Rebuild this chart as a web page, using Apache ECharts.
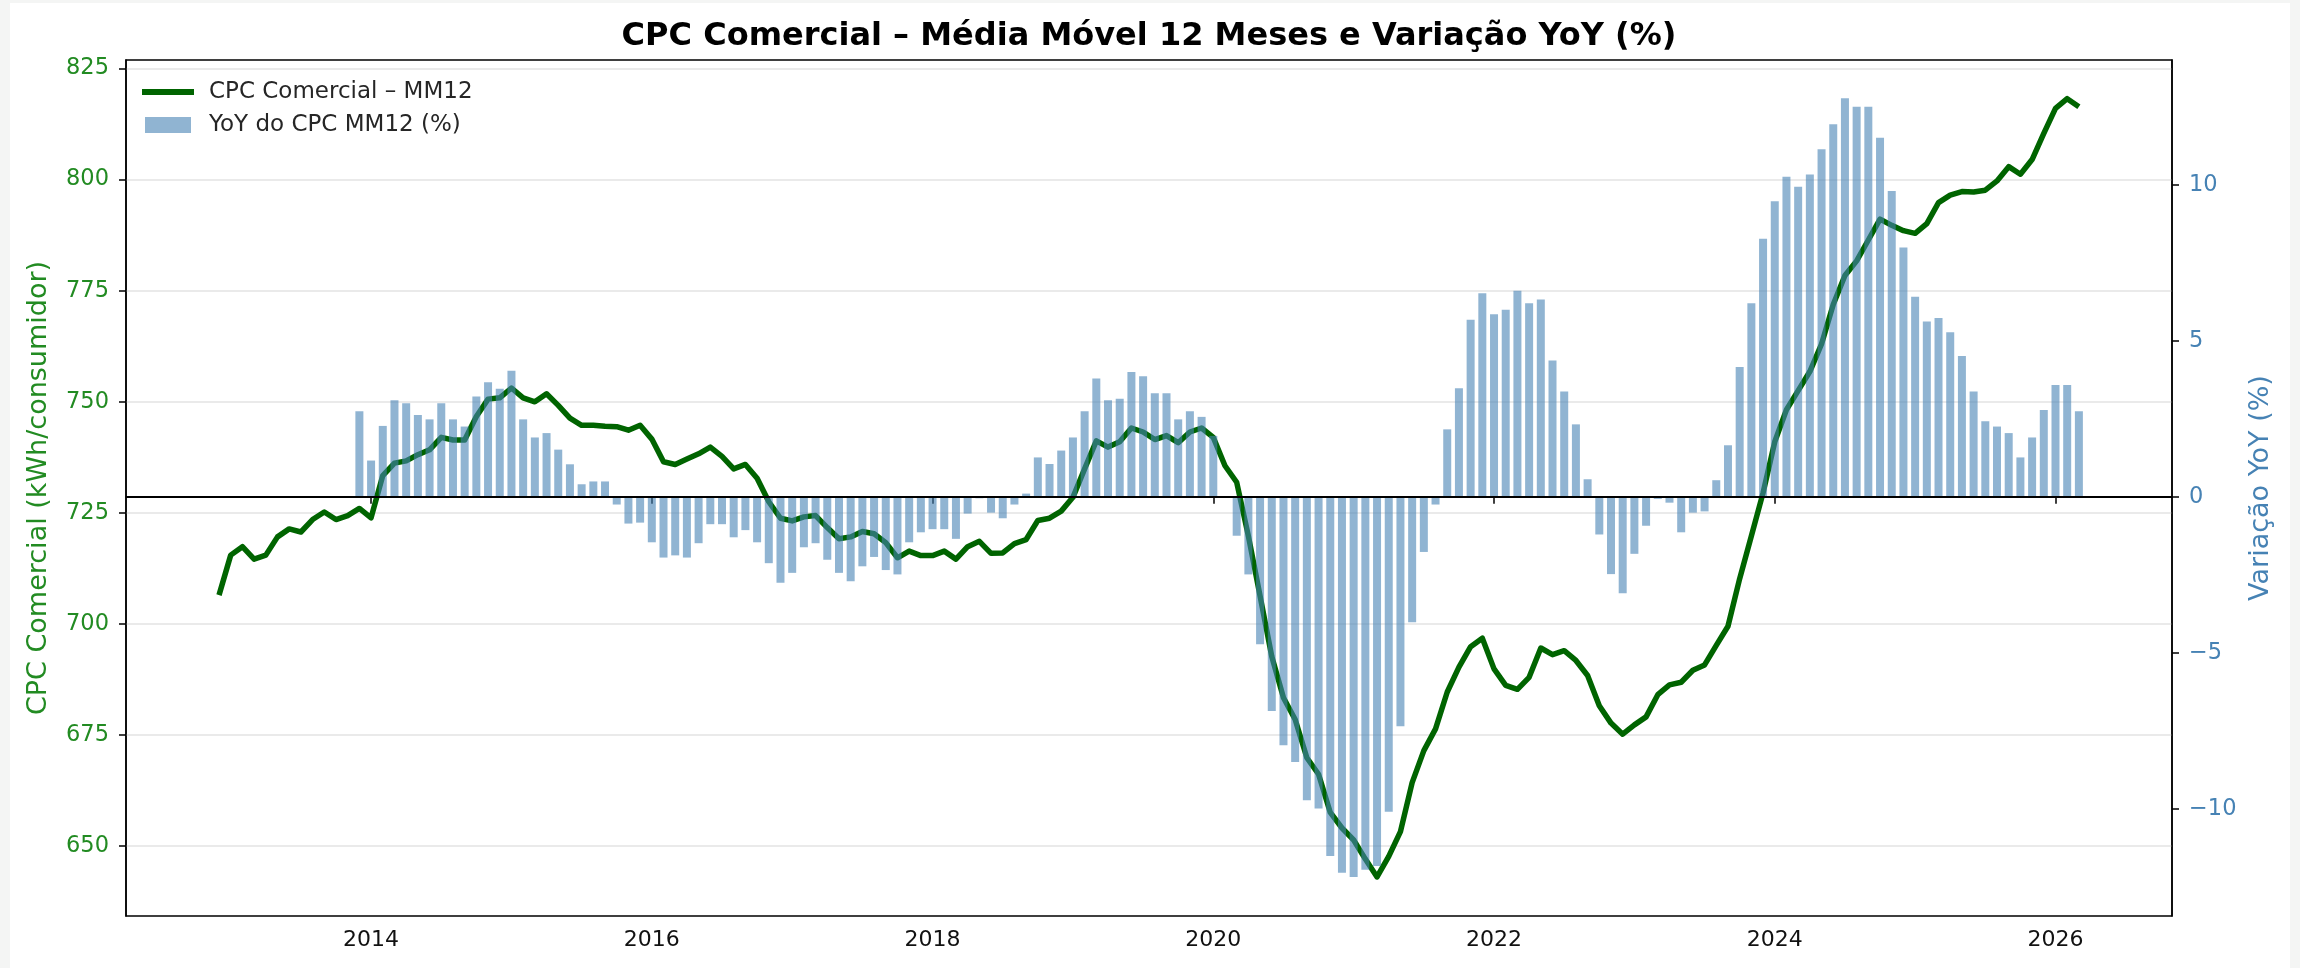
<!DOCTYPE html>
<html>
<head>
<meta charset="utf-8">
<title>CPC Comercial</title>
<script src="https://cdn.jsdelivr.net/npm/echarts@6/dist/echarts.min.js"></script>
<style>
    html, body { margin: 0; padding: 0; background: #f4f5f4; }
    #paper { position: absolute; left: 10px; top: 3px; width: 2280px; height: 965px; background: #fff; }
    #chart { position: absolute; left: 0; top: 0; width: 2300px; height: 968px; }
</style>
</head>
<body>
<div id="paper"></div>
<div id="chart"></div>
<script>
// serie mensal comeca em dez/2012, YoY comeca 12 meses depois
const startYear = 2012;
const startMonth = 12;

const cpcMM12 = [
    706.5, 715.5, 717.4, 714.6, 715.5, 719.6, 721.4, 720.7, 723.5, 725.2, 723.5, 724.4,
    726.0, 723.9, 733.4, 736.2, 736.7, 738.1, 739.2, 742.0, 741.4, 741.4, 746.7, 750.6,
    750.9, 753.1, 750.9, 750.0, 751.8, 749.2, 746.3, 744.7, 744.7, 744.5, 744.4, 743.6,
    744.7, 741.6, 736.5, 735.9, 737.1, 738.3, 739.8, 737.7, 734.9, 735.9, 732.8, 727.5,
    723.8, 723.2, 724.1, 724.4, 721.7, 719.2, 719.6, 720.8, 720.3, 718.3, 714.9, 716.4,
    715.4, 715.4, 716.4, 714.6, 717.4, 718.6, 715.9, 716.0, 718.1, 719.0, 723.3, 723.8,
    725.4, 728.5, 734.9, 741.2, 739.8, 741.0, 744.1, 743.2, 741.5, 742.4, 740.8, 743.2,
    744.1, 742.0, 735.6, 731.9, 719.8, 706.3, 692.7, 683.4, 678.5, 669.9, 666.2, 657.6,
    654.1, 651.4, 647.1, 643.1, 647.7, 653.3, 664.3, 671.5, 676.4, 684.7, 690.3, 694.9,
    696.8, 689.9, 686.2, 685.3, 688.0, 694.6, 693.1, 694.0, 691.8, 688.4, 681.6, 677.7,
    675.2, 677.3, 679.1, 684.1, 686.3, 686.9, 689.6, 690.8, 695.2, 699.5, 710.2, 719.8,
    729.5, 741.0, 748.2, 752.5, 756.8, 763.0, 771.9, 778.4, 781.7, 786.4, 791.1, 789.7,
    788.5, 787.9, 790.1, 794.8, 796.5, 797.3, 797.2, 797.6, 799.7, 802.9, 801.2, 804.5,
    810.4, 816.0, 818.2, 816.4
];

const yoyMM12 = [
    2.74, 1.16, 2.27, 3.09, 3.00, 2.62, 2.48, 3.00, 2.48, 2.25, 3.21, 3.67,
    3.46, 4.04, 2.48, 1.90, 2.04, 1.51, 1.04, 0.40, 0.49, 0.49, -0.25, -0.86,
    -0.83, -1.46, -1.95, -1.88, -1.95, -1.49, -0.88, -0.88, -1.30, -1.07, -1.46, -2.13,
    -2.76, -2.44, -1.62, -1.49, -2.02, -2.44, -2.71, -2.23, -1.93, -2.35, -2.49, -1.46,
    -1.14, -1.04, -1.04, -1.35, -0.54, -0.05, -0.51, -0.69, -0.25, 0.10, 1.26, 1.05,
    1.48, 1.90, 2.74, 3.79, 3.09, 3.14, 4.00, 3.86, 3.32, 3.32, 2.48, 2.74,
    2.56, 1.95, 0.00, -1.25, -2.49, -4.73, -6.87, -7.97, -8.50, -9.73, -9.99, -11.52,
    -12.05, -12.19, -11.96, -11.84, -10.10, -7.36, -4.02, -1.77, -0.25, 2.16, 3.48, 5.67,
    6.52, 5.85, 5.99, 6.60, 6.20, 6.32, 4.37, 3.37, 2.32, 0.56, -1.21, -2.48,
    -3.09, -1.83, -0.93, -0.07, -0.19, -1.14, -0.51, -0.47, 0.53, 1.65, 4.16, 6.20,
    8.27, 9.47, 10.26, 9.94, 10.33, 11.14, 11.94, 12.77, 12.50, 12.50, 11.51, 9.80,
    7.99, 6.41, 5.62, 5.73, 5.27, 4.51, 3.37, 2.42, 2.25, 2.04, 1.26, 1.90,
    2.78, 3.58, 3.58, 2.74
];

const yearTicks = [2014, 2016, 2018, 2020, 2022, 2024, 2026];
const cpcTicks = [650, 675, 700, 725, 750, 775, 800, 825];
const yoyTicks = [-10, -5, 0, 5, 10];

const FONT = 'DejaVu Sans';
const GREEN_TXT = '#228B22';
const BLUE_TXT = '#4682B4';

// posicao do mes i em anos decimais
function monthPos(i) {
    return startYear + (startMonth - 1 + i) / 12;
}

const lineData = cpcMM12.map((v, i) => [monthPos(i), v]);
const barData = yoyMM12.map((v, i) => [monthPos(i + 12), v]);

const chart = echarts.init(document.getElementById('chart'));

chart.setOption({
    animation: false,
    textStyle: {fontFamily: FONT},
    title: {
        text: 'CPC Comercial – Média Móvel 12 Meses e Variação YoY (%)',
        left: 1144,
        textAlign: 'center',
        top: 16,
        textStyle: {
            fontFamily: FONT,
            fontSize: 32,
            fontWeight: 'bold',
            color: '#000'
        }
    },
    legend: {
        orient: 'vertical',
        left: 142,
        top: 80.5,
        padding: 0,
        itemWidth: 52,
        itemHeight: 16,
        itemGap: 10,
        textStyle: {
            fontFamily: FONT,
            fontSize: 23,
            color: '#262626',
            padding: [0, 0, 0, 10]
        },
        data: [
            {
                name: 'CPC Comercial – MM12',
                // traço grosso, sem marcador
                icon: 'path://M0,0L52,0L52,6L0,6Z',
                itemStyle: {color: '#006400', borderWidth: 0}
            },
            {
                name: 'YoY do CPC MM12 (%)',
                icon: 'path://M3,0L49,0L49,16L3,16Z',
                itemStyle: {color: 'rgba(70, 130, 180, 0.6)', borderWidth: 0}
            }
        ]
    },
    grid: {
        left: 126,
        top: 60,
        width: 2046,
        height: 856,
        show: true,
        borderColor: '#000',
        borderWidth: 1.5,
        backgroundColor: 'transparent'
    },
    xAxis: {
        type: 'value',
        min: 2012.254,
        max: 2026.83,
        axisLine: {lineStyle: {color: '#000', width: 1.5}},
        axisTick: {
            show: true,
            customValues: yearTicks,
            length: 7,
            lineStyle: {color: '#000', width: 1.5}
        },
        axisLabel: {
            customValues: yearTicks,
            formatter: (v) => String(v),
            fontFamily: FONT,
            fontSize: 22,
            color: '#111',
            margin: 13
        },
        splitLine: {show: false}
    },
    yAxis: [
        {
            type: 'value',
            position: 'left',
            min: 634.3,
            max: 826.9,
            name: 'CPC Comercial (kWh/consumidor)',
            nameLocation: 'middle',
            nameGap: 74,
            nameTextStyle: {fontFamily: FONT, fontSize: 27, color: GREEN_TXT},
            axisLine: {show: true, lineStyle: {color: '#000', width: 1.5}},
            axisTick: {
                show: true,
                customValues: cpcTicks,
                length: 7,
                lineStyle: {color: '#000', width: 1.5}
            },
            axisLabel: {
                customValues: cpcTicks,
                fontFamily: FONT,
                fontSize: 22.5,
                color: GREEN_TXT,
                margin: 17
            },
            splitLine: {
                show: true,
                lineStyle: {color: '#e3e3e3', width: 1.5}
            }
        },
        {
            type: 'value',
            position: 'right',
            min: -13.44,
            max: 14.0,
            name: 'Variação YoY (%)',
            nameLocation: 'middle',
            nameGap: 73,
            nameTextStyle: {fontFamily: FONT, fontSize: 27, color: BLUE_TXT},
            axisLine: {show: true, lineStyle: {color: '#000', width: 1.5}},
            axisTick: {
                show: true,
                customValues: yoyTicks,
                length: 7,
                lineStyle: {color: '#000', width: 1.5}
            },
            axisLabel: {
                customValues: yoyTicks,
                formatter: (v) => (v < 0 ? '\u2212' + Math.abs(v) : String(v)),
                fontFamily: FONT,
                fontSize: 22.5,
                color: BLUE_TXT,
                margin: 17
            },
            splitLine: {show: false}
        }
    ],
    series: [
        {
            name: 'CPC Comercial – MM12',
            type: 'line',
            yAxisIndex: 0,
            symbol: 'none',
            showSymbol: false,
            z: 2,
            lineStyle: {color: '#006400', width: 5.5, join: 'round'},
            itemStyle: {color: '#006400'},
            data: lineData
        },
        {
            name: 'YoY do CPC MM12 (%)',
            type: 'bar',
            yAxisIndex: 1,
            barWidth: 8,
            z: 3,
            itemStyle: {color: 'rgba(70, 130, 180, 0.6)'},
            markLine: {
                silent: true,
                symbol: 'none',
                label: {show: false},
                lineStyle: {color: '#000', width: 2, type: 'solid'},
                data: [{yAxis: 0}]
            },
            data: barData
        }
    ]
});
</script>
</body>
</html>
